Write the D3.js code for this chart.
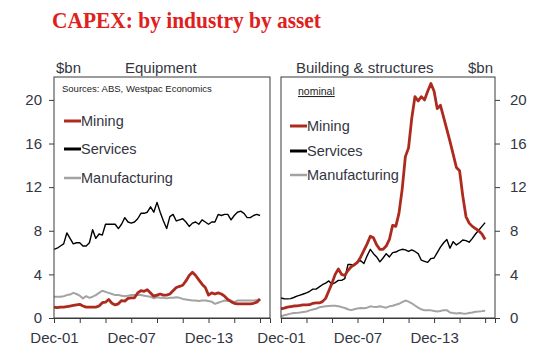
<!DOCTYPE html>
<meta charset="utf-8">
<style>
    body { margin: 0; background: #fff; }
    svg { font-family: Arial, "Liberation Sans", sans-serif; }
    .lbl { fill: #33363f; }
</style>
<svg width="543" height="361"></svg>
<script src="https://d3js.org/d3.v7.min.js"></script>
<script>
    // quarterly, Dec-01 .. Dec-17
    var startDate = new Date(2001, 11, 1);

    var equipMining = [1.0, 0.95, 1.0, 1.0, 1.05, 1.1, 1.15, 1.2, 1.25, 1.1, 1.0, 1.0, 1.0, 1.0, 1.1, 1.4,
        1.45, 1.7, 1.35, 1.2, 1.3, 1.6, 1.55, 1.8, 1.85, 1.85, 2.3, 2.5, 2.45, 2.6, 2.3, 2.0,
        2.1, 2.2, 2.1, 2.1, 2.2, 2.5, 2.8, 2.9, 3.0, 3.4, 3.9, 4.2, 3.9, 3.5, 3.1, 2.8,
        2.1, 2.3, 2.2, 2.3, 2.2, 2.0, 1.7, 1.5, 1.35, 1.3, 1.3, 1.3, 1.3, 1.3, 1.35, 1.45, 1.75];
    var equipServices = [6.3, 6.4, 6.6, 6.8, 7.8, 7.3, 6.8, 6.9, 6.9, 6.6, 6.6, 6.9, 8.1, 7.3, 7.7, 7.6,
        8.6, 8.6, 8.6, 8.6, 8.2, 8.6, 9.2, 8.8, 8.7, 8.8, 9.1, 9.6, 9.6, 9.7, 10.2, 9.7,
        10.6, 9.7, 8.9, 8.2, 9.3, 9.5, 8.9, 9.0, 9.1, 8.8, 8.4, 8.7, 8.8, 8.6, 9.0, 8.8,
        8.6, 8.8, 8.8, 9.5, 9.4, 9.5, 9.5, 9.0, 9.4, 9.7, 9.8, 9.6, 9.2, 9.2, 9.4, 9.5, 9.4];
    var equipManufacturing = [1.95, 1.95, 1.95, 2.0, 2.1, 2.15, 2.3, 2.2, 2.05, 1.8, 2.0, 1.85, 1.95, 2.1, 2.3, 2.5,
        2.4, 2.3, 2.2, 2.1, 2.1, 2.05, 2.0, 2.05, 2.1, 2.1, 2.1, 2.1, 2.05, 2.0, 1.95, 1.8,
        1.9, 1.85, 1.85, 1.8, 1.85, 1.85, 1.9, 1.85, 1.75, 1.7, 1.65, 1.6, 1.6, 1.55, 1.6, 1.6,
        1.55, 1.5, 1.3, 1.4, 1.5, 1.6, 1.55, 1.6, 1.45, 1.6, 1.6, 1.6, 1.6, 1.6, 1.6, 1.65, 1.7];

    var buildMining = [0.83, 0.9, 1.0, 1.05, 1.1, 1.12, 1.15, 1.2, 1.2, 1.22, 1.35, 1.38, 1.38, 1.5, 1.8, 2.5,
        3.2, 4.0, 4.5, 4.0, 3.9, 4.35, 4.7, 4.9, 5.1, 5.6, 6.2, 6.8, 7.5, 7.35, 6.7, 6.3,
        6.3, 6.6, 7.2, 8.5, 8.4, 9.6, 11.8, 14.8, 15.6, 18.3, 20.3, 19.9, 20.3, 20.0, 20.8, 21.5,
        20.8, 19.2, 19.5, 18.4, 17.3, 16.2, 15.0, 13.8, 13.5, 11.2, 9.3, 8.7, 8.4, 8.2, 8.0, 7.7, 7.2];
    var buildServices = [1.83, 1.77, 1.75, 1.78, 1.88, 2.0, 2.1, 2.2, 2.3, 2.45, 2.65, 2.65, 2.85, 3.05, 3.2, 3.4,
        3.1, 3.25, 3.45, 3.45, 3.6, 4.9, 4.9, 4.8, 5.2, 5.25, 5.0, 5.7, 6.3, 5.9, 5.6, 5.15,
        5.5, 5.9, 5.6, 6.0, 6.05, 6.2, 6.3, 6.25, 6.1, 6.25, 6.1, 5.9, 5.3, 5.2, 5.1, 5.45,
        5.5, 6.0, 6.5, 6.9, 7.2, 6.4, 7.0, 6.7, 6.9, 7.15, 7.1, 6.95, 7.3, 7.7, 8.05, 8.4, 8.75];
    var buildManufacturing = [0.15, 0.25, 0.32, 0.4, 0.45, 0.47, 0.5, 0.55, 0.6, 0.7, 0.78, 0.85, 0.98, 1.03, 1.07, 1.1,
        1.13, 1.12, 1.07, 1.0, 0.92, 0.8, 0.72, 0.8, 0.88, 0.92, 0.9, 0.95, 1.07, 1.02, 1.0, 1.07,
        1.0, 0.95, 1.07, 1.12, 1.22, 1.3, 1.45, 1.6, 1.5, 1.35, 1.15, 0.95, 0.8, 0.7, 0.7, 0.7,
        0.65, 0.6, 0.65, 0.72, 0.72, 0.5, 0.45, 0.42, 0.45, 0.42, 0.4, 0.45, 0.5, 0.58, 0.6, 0.63, 0.67];

    var seriesNames = ["Mining", "Services", "Manufacturing"];
    var seriesColors = ["#ad2a1f", "#000000", "#a3a3a3"];
    var seriesWidths = [2.8, 1.4, 2];
    var yTicks = [0, 4, 8, 12, 16, 20];
    var xLabelYears = [2001, 2007, 2013];

    var dates = equipMining.map(function (v, i) {
        return d3.timeMonth.offset(startDate, i * 3);
    });

    var svg = d3.select("svg");

    svg.append("text")
        .attr("x", 52).attr("y", 28)
        .attr("textLength", 269)
        .attr("lengthAdjust", "spacingAndGlyphs")
        .style("font-family", "'Liberation Serif', 'Times New Roman', serif")
        .style("font-weight", "bold")
        .style("font-size", "23px")
        .style("fill", "#e0201c")
        .text("CAPEX: by industry by asset");

    var xDomain = [startDate, new Date(2018, 8, 10)];

    function panel(opts) {
        var x = d3.scaleTime().domain(xDomain).range([opts.left, opts.right]);
        var y = d3.scaleLinear().domain([0, 22.1]).range([318, 77]);
        var g = svg.append("g");

        var line = d3.line()
            .x(function (d, i) { return x(dates[i]); })
            .y(function (d) { return y(d); });

        // manufacturing first, mining on top
        [2, 1, 0].forEach(function (k) {
            g.append("path")
                .datum(opts.data[k])
                .attr("fill", "none")
                .attr("stroke", seriesColors[k])
                .attr("stroke-width", seriesWidths[k])
                .attr("stroke-linejoin", "round")
                .attr("d", line);
        });

        g.append("rect")
            .attr("x", opts.left).attr("y", 77)
            .attr("width", opts.right - opts.left).attr("height", 318 - 77)
            .attr("fill", "none").attr("stroke", "#3a3a3a").attr("stroke-width", 1);

        var xTicks = d3.range(2001, 2018, 2).map(function (yr) { return new Date(yr, 11, 1); });
        var xAxis = g.append("g")
            .attr("transform", "translate(0,318)")
            .call(d3.axisBottom(x).tickValues(xTicks).tickSize(5)
                .tickFormat(function (d) {
                    return xLabelYears.indexOf(d.getFullYear()) >= 0 ? d3.timeFormat("Dec-%y")(d) : "";
                }));
        xAxis.select(".domain").attr("stroke", "#3a3a3a");
        xAxis.selectAll(".tick line").attr("stroke", "#3a3a3a");
        xAxis.selectAll(".tick text")
            .attr("class", "lbl").attr("dy", 0).attr("y", 25)
            .style("font-size", "15px").style("font-family", "Arial, 'Liberation Sans', sans-serif");

        var yAxisFn = opts.side === "left" ? d3.axisLeft(y) : d3.axisRight(y);
        var yAxis = g.append("g")
            .attr("transform", "translate(" + (opts.side === "left" ? opts.left : opts.right) + ",0)")
            .call(yAxisFn.tickValues(yTicks).tickSize(5).tickPadding(opts.side === "left" ? 7 : 10));
        yAxis.select(".domain").remove();
        yAxis.selectAll(".tick line").attr("stroke", "#3a3a3a");
        yAxis.selectAll(".tick text")
            .attr("class", "lbl")
            .style("font-size", "15px").style("font-family", "Arial, 'Liberation Sans', sans-serif");

        // headings
        opts.heads.forEach(function (h) {
            g.append("text").attr("class", "lbl")
                .attr("x", h[0]).attr("y", 73)
                .style("font-size", "15px")
                .text(h[1]);
        });

        // note line
        var note = g.append("text")
            .attr("x", opts.note[0]).attr("y", opts.note[1])
            .style("font-size", opts.note[3])
            .style("fill", "#222")
            .text(opts.note[2]);
        if (opts.underline) note.style("text-decoration", "underline");

        // legend
        seriesNames.forEach(function (name, k) {
            var ly = opts.legendY[k];
            g.append("line")
                .attr("x1", opts.legendX).attr("x2", opts.legendX + 17)
                .attr("y1", ly).attr("y2", ly)
                .attr("stroke", seriesColors[k])
                .attr("stroke-width", k === 2 ? 2.5 : 3);
            g.append("text").attr("class", "lbl")
                .attr("x", opts.legendX + 17).attr("y", ly)
                .attr("dy", "0.35em")
                .style("font-size", "14.5px")
                .text(name);
        });
    }

    panel({
        left: 54, right: 270, side: "left",
        data: [equipMining, equipServices, equipManufacturing],
        heads: [[56, "$bn"], [125, "Equipment"]],
        note: [62, 92, "Sources: ABS, Westpac Economics", "9.5px"],
        legendX: 64, legendY: [121, 149, 178]
    });

    panel({
        left: 281, right: 495, side: "right",
        data: [buildMining, buildServices, buildManufacturing],
        heads: [[296, "Building & structures"], [468, "$bn"]],
        note: [298, 95, "nominal", "10.5px"], underline: true,
        legendX: 290, legendY: [126, 151, 175]
    });
</script>
